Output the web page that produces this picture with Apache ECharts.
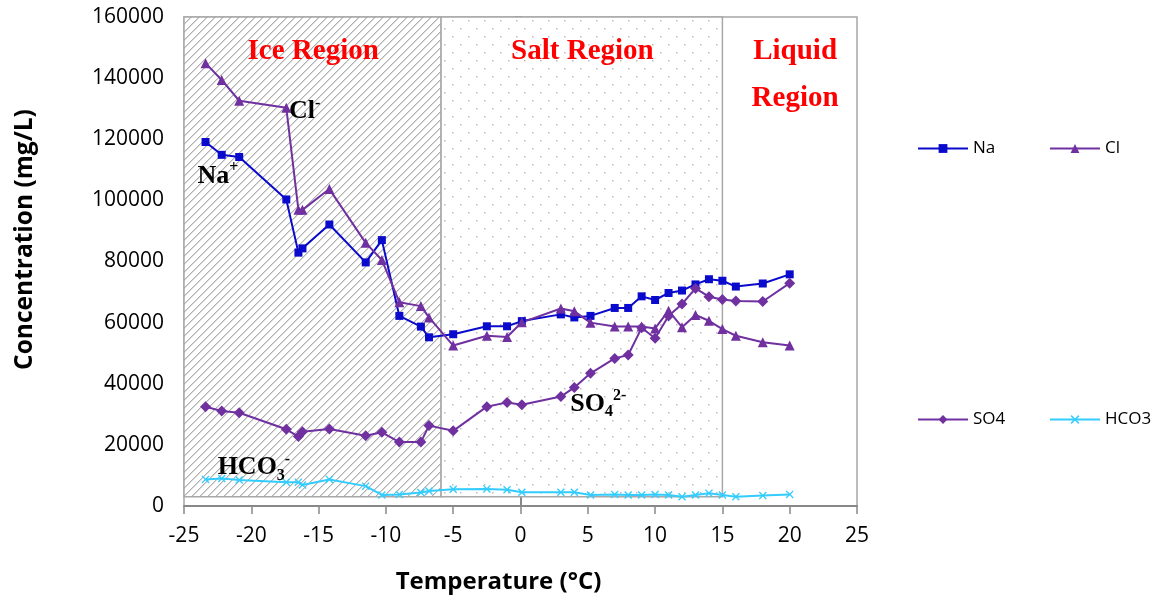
<!DOCTYPE html>
<html><head><meta charset="utf-8">
<script src="https://cdn.jsdelivr.net/npm/echarts@6/dist/echarts.min.js"></script>
<style>html,body{margin:0;padding:0;background:#fff}#c{width:1151px;height:605px}</style>
</head><body><div id="c"></div>
<script>
// ---- data ----
const temps = [-23.4, -22.2, -20.9, -17.4, -16.5, -16.2, -14.2, -11.5, -10.3, -9.0, -7.4, -6.8, -5.0, -2.5, -1.0, 0.1, 3.0, 4.0, 5.2, 7.0, 8.0, 9.0, 10.0, 11.0, 12.0, 13.0, 14.0, 15.0, 16.0, 18.0, 20.0];
const na   = [119100, 114900, 114200, 100300, 82900, 84300, 92100, 79700, 87000, 62200, 58700, 55200, 56200, 58800, 58800, 60500, 62700, 61700, 62200, 64800, 64800, 68600, 67400, 69700, 70500, 72500, 74200, 73700, 71800, 72800, 75800];
const cl   = [144900, 139400, 132600, 130300, 96900, 96900, 103700, 86100, 80500, 66700, 65400, 61700, 52500, 55700, 55300, 60100, 64600, 63700, 60000, 58700, 58700, 58700, 58100, 63900, 58500, 62500, 60600, 57900, 55700, 53600, 52500];
const so4  = [32500, 31100, 30500, 25100, 22700, 24300, 25200, 23000, 24100, 20900, 20900, 26300, 24600, 32500, 33900, 33100, 35800, 38800, 43400, 48300, 49400, 58300, 54900, 62200, 66100, 71200, 68500, 67600, 67100, 66900, 72900];
const hco3 = [8700, 9000, 8500, 7800, 7800, 6900, 8700, 6500, 3600, 3800, 4400, 4900, 5500, 5600, 5300, 4500, 4500, 4500, 3600, 3800, 3600, 3600, 3800, 3600, 3000, 3600, 4200, 3600, 3000, 3400, 3800];
const seriesNames = ['Na', 'Cl', 'SO4', 'HCO3'];
const xTickMin = -25, xTickMax = 25, xTickStep = 5;
const yTickMin = 0, yTickMax = 160000, yTickStep = 20000;
// region boundaries (°C)
const regionBounds = [-25, -5.9, 15, 25];
const regionNames = ['Ice Region', 'Salt Region', 'Liquid\nRegion'];
const regionLabelX = [-15.4, 4.6, 20.4];
const regionLabelY = 156400;
// ion annotations
const annoText = ['{b|Cl}{sup|-}', '{b|Na}{sup|+}', '{b|SO}{sub|4}{sup|2-}', '{b|HCO}{sub|3}{sup|-}'];
const annoX = [-17.2, -24.0, 3.7, -22.5];
const annoY = [129100, 108000, 33400, 12600];

function hatchCanvas() {
  const s = 8, c = document.createElement('canvas'); c.width = s; c.height = s;
  const g = c.getContext('2d');
  g.fillStyle = '#ffffff'; g.fillRect(0, 0, s, s);
  g.fillStyle = 'rgba(150,150,150,0.75)';
  for (let i = 0; i < s; i++) { g.fillRect(i, s - 1 - i, 1, 1); }
  g.fillStyle = 'rgba(190,190,190,0.6)';
  for (let i = 0; i < s; i++) { g.fillRect((i + 1) % s, s - 1 - i, 1, 1); }
  return c;
}
function dotCanvas() {
  const c = document.createElement('canvas'); c.width = 16; c.height = 16;
  const g = c.getContext('2d');
  g.fillStyle = '#ffffff'; g.fillRect(0, 0, 16, 16);
  g.fillStyle = '#bcbcbc';
  g.fillRect(4, 4, 1.5, 1.5); g.fillRect(12, 12, 1.5, 1.5);
  return c;
}

const chart = echarts.init(document.getElementById('c'), null, {renderer: 'canvas'});
const colors = ['#0A0ACC', '#7030A0', '#7030A0', '#33CCFF'];
const symbols = ['rect', 'triangle', 'diamond', 'path://M0,1.2L1.2,0L5,3.8L8.8,0L10,1.2L6.2,5L10,8.8L8.8,10L5,6.2L1.2,10L0,8.8L3.8,5Z'];
const sizes = [8, 10, 11, 8];
const vals = [na, cl, so4, hco3];
const axisFont = {fontFamily: 'Open Sans', fontSize: 21, color: '#000'};

const series = seriesNames.map((n, k) => ({
  name: n, type: 'line', z: 3,
  data: temps.map((t, i) => [t, vals[k][i]]),
  symbol: symbols[k], symbolSize: sizes[k], showAllSymbol: true,
  itemStyle: {color: colors[k]},
  lineStyle: {color: colors[k], width: 2},
  animation: false
}));
series.push({
  type: 'line', z: 1, data: [], silent: true,
  markArea: {
    silent: true,
    data: [
      [{xAxis: regionBounds[0], yAxis: 3000, itemStyle: {color: {image: hatchCanvas(), repeat: 'repeat'}, borderColor: '#a8a8a8', borderWidth: 1.5}},
       {xAxis: regionBounds[1], yAxis: 160000}],
      [{xAxis: regionBounds[1], yAxis: 3000, itemStyle: {color: {image: dotCanvas(), repeat: 'repeat'}, borderColor: '#a8a8a8', borderWidth: 1.5}},
       {xAxis: regionBounds[2], yAxis: 160000}]
    ]
  }
});

const legends = [[0, 912, 135], [1, 1044, 135], [2, 912, 406], [3, 1044, 406]].map(a => ({
  data: [seriesNames[a[0]]], left: a[1], top: a[2], itemWidth: 50, itemHeight: 11, itemGap: 0, selectedMode: false,
  textStyle: {fontFamily: 'Open Sans', fontSize: 17, color: '#000'}
}));

chart.setOption({
  animation: false,
  backgroundColor: '#fff',
  grid: {left: 184, right: 294, top: 17, bottom: 99, show: true, borderColor: '#a6a6a6', borderWidth: 1.5, backgroundColor: 'transparent'},
  legend: legends,
  xAxis: {
    type: 'value', min: xTickMin, max: xTickMax, interval: xTickStep,
    name: 'Temperature (°C)', nameLocation: 'middle', nameGap: 64,
    nameTextStyle: {fontFamily: 'Open Sans', fontSize: 24, fontWeight: 'bold', color: '#000', padding: [0, 44, 0, 0]},
    axisLine: {onZero: false, lineStyle: {color: '#888', width: 2}},
    axisTick: {show: true, length: 8, lineStyle: {color: '#888', width: 1.5}},
    axisLabel: Object.assign({margin: 20}, axisFont),
    splitLine: {show: false}
  },
  yAxis: {
    type: 'value', min: yTickMin, max: yTickMax, interval: yTickStep,
    name: 'Concentration (mg/L)', nameLocation: 'middle', nameGap: 146, nameRotate: 90,
    nameTextStyle: {fontFamily: 'Open Sans', fontSize: 24.5, fontWeight: 'bold', color: '#000', padding: [0, 0, 0, 44]},
    axisLine: {show: true, lineStyle: {color: '#888', width: 2}},
    axisTick: {show: true, length: 6, lineStyle: {color: '#888', width: 1.5}},
    axisLabel: Object.assign({margin: 20, formatter: v => String(v)}, axisFont),
    splitLine: {show: false}
  },
  series: series
});

const px = (x, y) => chart.convertToPixel({xAxisIndex: 0, yAxisIndex: 0}, [x, y]);
const graphics = [];
regionNames.forEach((t, i) => {
  const p = px(regionLabelX[i], regionLabelY);
  graphics.push({type: 'text', x: p[0], y: p[1], z: 10, style: {
    text: t, fill: '#FF0000', font: 'bold 29px "Liberation Serif"', align: 'center', verticalAlign: 'top', lineHeight: 47
  }});
});
annoText.forEach((t, i) => {
  const p = px(annoX[i], annoY[i]);
  graphics.push({type: 'text', x: p[0], y: p[1], z: 10, style: {
    text: t, align: 'left', verticalAlign: 'middle',
    rich: {
      b: {fontFamily: 'Liberation Serif', fontWeight: 'bold', fontSize: 26, lineHeight: 32, fill: '#000'},
      sup: {fontFamily: 'Liberation Serif', fontWeight: 'bold', fontSize: 16, lineHeight: 20, verticalAlign: 'top', fill: '#000'},
      sub: {fontFamily: 'Liberation Serif', fontWeight: 'bold', fontSize: 16, lineHeight: 18, verticalAlign: 'bottom', fill: '#000'}
    }
  }});
});
chart.setOption({graphic: graphics});
</script></body></html>
